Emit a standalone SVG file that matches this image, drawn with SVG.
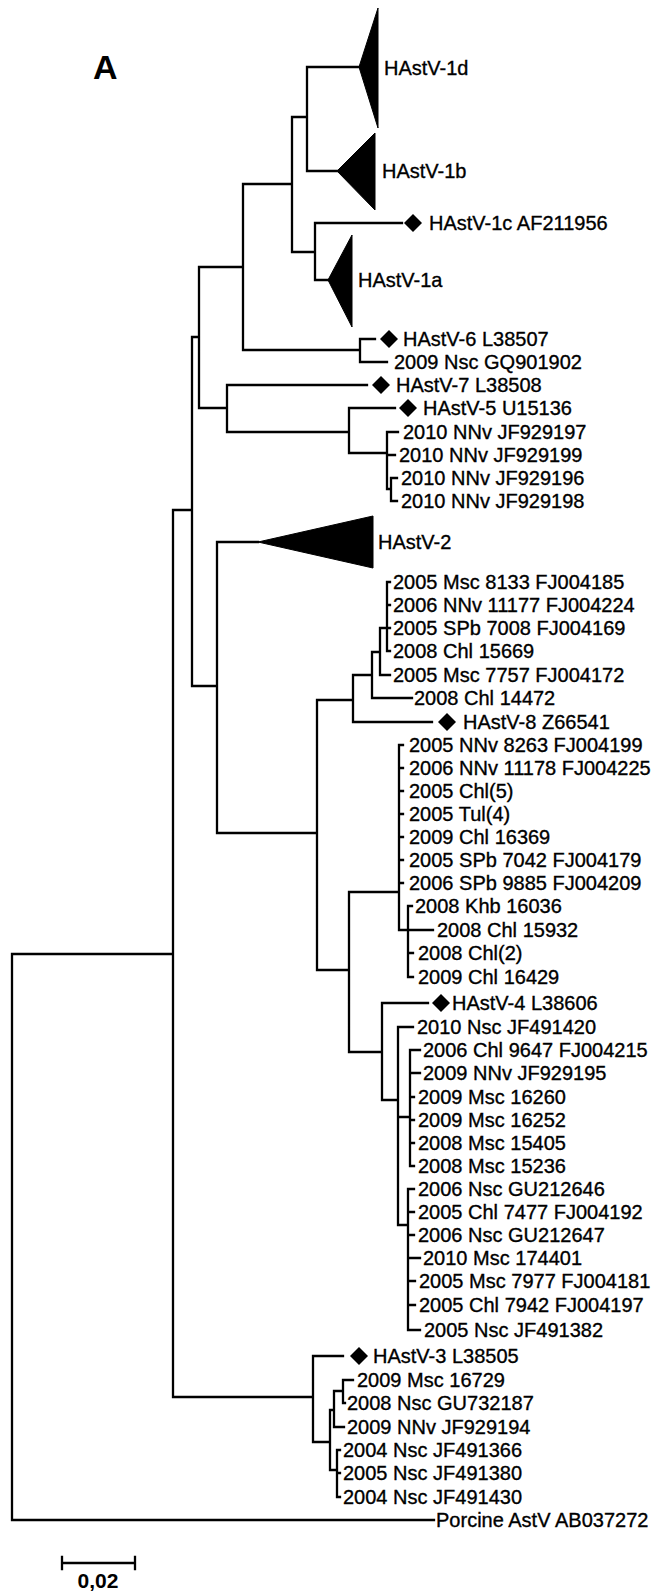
<svg xmlns="http://www.w3.org/2000/svg" width="657" height="1592" viewBox="0 0 657 1592">
<style>
.l{font-family:"Liberation Sans",Arial,sans-serif;font-size:20.5px;fill:#000;stroke:#000;stroke-width:0.35}
.br{fill:none;stroke:#000;stroke-width:2.3;stroke-linecap:square}
.tri{fill:#000;stroke:#000;stroke-width:1}
.dm{fill:#000}
</style>
<defs>
<path id="dm" d="M-9 0L0-9L9 0L0 9Z"/>
</defs>
<rect width="657" height="1592" fill="#fff"/>
<text x="93" y="79" style="font-family:'Liberation Sans',Arial,sans-serif;font-size:34px;font-weight:bold">A</text>
<g id="connectors">
<path class="br" d="M12 954V1520M12 954H173M12 1520H434
M173 510V1397M173 510H192M173 1397H313
M192 337V686M192 337H199M192 686H217
M199 267V408M199 267H243M199 408H227
M243 184V350M243 184H292M243 350H360
M292 117V252M292 117H307M292 252H315
M307 67V171M307 67H359M307 171H337
M315 223V280M315 223H402M315 280H328
M360 339V362M360 339H375M360 362H387
M227 385V432M227 385H367M227 432H349
M349 408V453M349 408H395M349 453H387
M387 432V489M387 432H398M387 455H395M387 489H391M391 478V501M391 478H397M391 501H397
M217 542V833M217 542H258M217 833H317
M317 700V970M317 700H353M317 970H349
M353 675V722M353 675H372M353 722H432
M372 652V698M372 652H380M372 698H412
M380 628V675M380 628H387M380 675H390
M387 582V651M387 582H390M387 605H390M387 628H390M387 651H390
M349 892V1052M349 892H399M349 1052H382
M399 745V930M399 745H403M399 768H403M399 791H403M399 814H403M399 837H403M399 860H403M399 883H403M399 930H408
M408 906V977M408 906H412M408 930H433M408 953H413M408 977H413
M382 1003V1100M382 1003H428M382 1100H398
M398 1027V1225M398 1027H413M398 1117H410M398 1225H408
M410 1050V1166M410 1050H420M410 1073H420M410 1097H414M410 1120H414M410 1143H414M410 1166H414
M408 1189V1330M408 1189H414M408 1212H414M408 1235H414M408 1258H420M408 1281H415M408 1305H415M408 1330H420
M313 1356V1442M313 1356H343M313 1442H330
M330 1410V1470M330 1410H334M330 1470H337
M334 1391V1427M334 1391H343M334 1427H344
M343 1380V1403M343 1380H353M343 1403H345
M337 1450V1497M337 1450H340M337 1473H340M337 1497H340"/>
</g>
<g id="clade-1d"><polygon class="tri" points="359,67 378,8 378,128"/><text class="l" transform="translate(384 75.3) scale(.976 1)">HAstV-1d</text></g>
<g id="clade-1b"><polygon class="tri" points="337,171 375,133 375,210"/><text class="l" transform="translate(382 178.3) scale(.976 1)">HAstV-1b</text></g>
<g id="leaf-1c"><use href="#dm" class="dm" x="413" y="223"/><text class="l" transform="translate(429 230.3) scale(.976 1)">HAstV-1c AF211956</text></g>
<g id="clade-1a"><polygon class="tri" points="328,280 352,235 352,327"/><text class="l" transform="translate(358 287.3) scale(.976 1)">HAstV-1a</text></g>
<g id="leaf-6"><use href="#dm" class="dm" x="389" y="339"/><text class="l" transform="translate(403 346.3) scale(.976 1)">HAstV-6 L38507</text></g>
<g id="leaf-GQ901902"><text class="l" transform="translate(394 369.3) scale(.976 1)">2009 Nsc GQ901902</text></g>
<g id="leaf-7"><use href="#dm" class="dm" x="381" y="385"/><text class="l" transform="translate(396 392.3) scale(.976 1)">HAstV-7 L38508</text></g>
<g id="leaf-5"><use href="#dm" class="dm" x="408" y="408"/><text class="l" transform="translate(423 415.3) scale(.976 1)">HAstV-5 U15136</text></g>
<g id="leaf-JF929197"><text class="l" transform="translate(403 439.3) scale(.976 1)">2010 NNv JF929197</text></g>
<g id="leaf-JF929199"><text class="l" transform="translate(399 462.3) scale(.976 1)">2010 NNv JF929199</text></g>
<g id="leaf-JF929196"><text class="l" transform="translate(401 485.3) scale(.976 1)">2010 NNv JF929196</text></g>
<g id="leaf-JF929198"><text class="l" transform="translate(401 508.3) scale(.976 1)">2010 NNv JF929198</text></g>
<g id="clade-2"><polygon class="tri" points="258,542 373,516 373,568"/><text class="l" transform="translate(378 549.3) scale(.976 1)">HAstV-2</text></g>
<g id="leaf-FJ004185"><text class="l" transform="translate(393 589.3) scale(.976 1)">2005 Msc 8133 FJ004185</text></g>
<g id="leaf-FJ004224"><text class="l" transform="translate(393 612.3) scale(.976 1)">2006 NNv 11177 FJ004224</text></g>
<g id="leaf-FJ004169"><text class="l" transform="translate(393 635.3) scale(.976 1)">2005 SPb 7008 FJ004169</text></g>
<g id="leaf-15669"><text class="l" transform="translate(393 658.3) scale(.976 1)">2008 Chl 15669</text></g>
<g id="leaf-FJ004172"><text class="l" transform="translate(393 682.3) scale(.976 1)">2005 Msc 7757 FJ004172</text></g>
<g id="leaf-14472"><text class="l" transform="translate(414 705.3) scale(.976 1)">2008 Chl 14472</text></g>
<g id="leaf-8"><use href="#dm" class="dm" x="447" y="722"/><text class="l" transform="translate(463 729.3) scale(.976 1)">HAstV-8 Z66541</text></g>
<g id="leaf-FJ004199"><text class="l" transform="translate(409 752.3) scale(.976 1)">2005 NNv 8263 FJ004199</text></g>
<g id="leaf-FJ004225"><text class="l" transform="translate(409 775.3) scale(.976 1)">2006 NNv 11178 FJ004225</text></g>
<g id="leaf-Chl5"><text class="l" transform="translate(409 798.3) scale(.976 1)">2005 Chl(5)</text></g>
<g id="leaf-Tul4"><text class="l" transform="translate(409 821.3) scale(.976 1)">2005 Tul(4)</text></g>
<g id="leaf-16369"><text class="l" transform="translate(409 844.3) scale(.976 1)">2009 Chl 16369</text></g>
<g id="leaf-FJ004179"><text class="l" transform="translate(409 867.3) scale(.976 1)">2005 SPb 7042 FJ004179</text></g>
<g id="leaf-FJ004209"><text class="l" transform="translate(409 890.3) scale(.976 1)">2006 SPb 9885 FJ004209</text></g>
<g id="leaf-16036"><text class="l" transform="translate(415 913.3) scale(.976 1)">2008 Khb 16036</text></g>
<g id="leaf-15932"><text class="l" transform="translate(437 937.3) scale(.976 1)">2008 Chl 15932</text></g>
<g id="leaf-Chl2"><text class="l" transform="translate(418 960.3) scale(.976 1)">2008 Chl(2)</text></g>
<g id="leaf-16429"><text class="l" transform="translate(418 984.3) scale(.976 1)">2009 Chl 16429</text></g>
<g id="leaf-4"><use href="#dm" class="dm" x="441" y="1003"/><text class="l" transform="translate(452 1010.3) scale(.976 1)">HAstV-4 L38606</text></g>
<g id="leaf-JF491420"><text class="l" transform="translate(417 1034.3) scale(.976 1)">2010 Nsc JF491420</text></g>
<g id="leaf-FJ004215"><text class="l" transform="translate(423 1057.3) scale(.976 1)">2006 Chl 9647 FJ004215</text></g>
<g id="leaf-JF929195"><text class="l" transform="translate(423 1080.3) scale(.976 1)">2009 NNv JF929195</text></g>
<g id="leaf-16260"><text class="l" transform="translate(418 1104.3) scale(.976 1)">2009 Msc 16260</text></g>
<g id="leaf-16252"><text class="l" transform="translate(418 1127.3) scale(.976 1)">2009 Msc 16252</text></g>
<g id="leaf-15405"><text class="l" transform="translate(418 1150.3) scale(.976 1)">2008 Msc 15405</text></g>
<g id="leaf-15236"><text class="l" transform="translate(418 1173.3) scale(.976 1)">2008 Msc 15236</text></g>
<g id="leaf-GU212646"><text class="l" transform="translate(418 1196.3) scale(.976 1)">2006 Nsc GU212646</text></g>
<g id="leaf-FJ004192"><text class="l" transform="translate(418 1219.3) scale(.976 1)">2005 Chl 7477 FJ004192</text></g>
<g id="leaf-GU212647"><text class="l" transform="translate(418 1242.3) scale(.976 1)">2006 Nsc GU212647</text></g>
<g id="leaf-174401"><text class="l" transform="translate(423 1265.3) scale(.976 1)">2010 Msc 174401</text></g>
<g id="leaf-FJ004181"><text class="l" transform="translate(419 1288.3) scale(.976 1)">2005 Msc 7977 FJ004181</text></g>
<g id="leaf-FJ004197"><text class="l" transform="translate(419 1312.3) scale(.976 1)">2005 Chl 7942 FJ004197</text></g>
<g id="leaf-JF491382"><text class="l" transform="translate(424 1337.3) scale(.976 1)">2005 Nsc JF491382</text></g>
<g id="leaf-3"><use href="#dm" class="dm" x="359" y="1356"/><text class="l" transform="translate(373 1363.3) scale(.976 1)">HAstV-3 L38505</text></g>
<g id="leaf-16729"><text class="l" transform="translate(357 1387.3) scale(.976 1)">2009 Msc 16729</text></g>
<g id="leaf-GU732187"><text class="l" transform="translate(347 1410.3) scale(.976 1)">2008 Nsc GU732187</text></g>
<g id="leaf-JF929194"><text class="l" transform="translate(347 1434.3) scale(.976 1)">2009 NNv JF929194</text></g>
<g id="leaf-JF491366"><text class="l" transform="translate(343 1457.3) scale(.976 1)">2004 Nsc JF491366</text></g>
<g id="leaf-JF491380"><text class="l" transform="translate(343 1480.3) scale(.976 1)">2005 Nsc JF491380</text></g>
<g id="leaf-JF491430"><text class="l" transform="translate(343 1504.3) scale(.976 1)">2004 Nsc JF491430</text></g>
<g id="leaf-porcine"><text class="l" transform="translate(436 1527.3) scale(.976 1)">Porcine AstV AB037272</text></g>
<g id="scale-bar">
<path class="br" d="M62 1563H135M62 1557V1569M135 1557V1569"/>
<text x="98" y="1588" text-anchor="middle" style="font-family:'Liberation Sans',Arial,sans-serif;font-size:21px;font-weight:bold">0,02</text>
</g>
</svg>
